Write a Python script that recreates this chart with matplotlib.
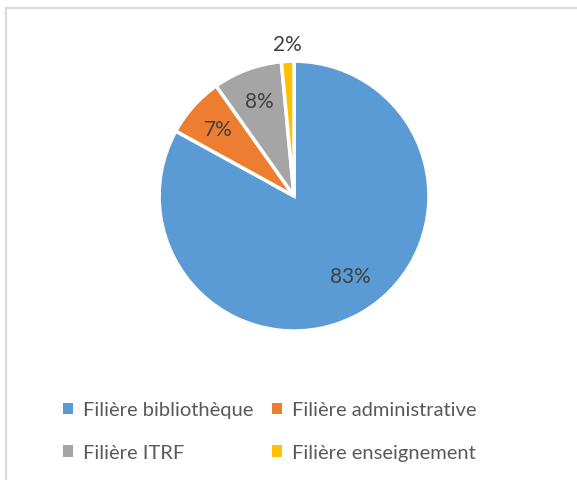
import matplotlib
matplotlib.use('Agg')
import matplotlib.pyplot as plt
from matplotlib.patches import Rectangle

labels = ['Filière bibliothèque', 'Filière administrative', 'Filière ITRF', 'Filière enseignement']
values = [83.0, 7.2, 8.3, 1.5]
colors = ['#5B9BD5', '#ED7D31', '#A5A5A5', '#FFC000']

plt.rcParams['font.family'] = ['Lato', 'DejaVu Sans']

fig = plt.figure(figsize=(5.77, 4.81), dpi=100)
fig.patch.set_facecolor('white')

# chart frame (cropped at right/bottom)
fig.add_artist(Rectangle((6/577, -0.05), 1.2, 1 - 9/481 + 0.05, transform=fig.transFigure,
                         fill=False, edgecolor='#d9d9d9', linewidth=1.5))

ax = fig.add_axes([0.2756, 0.3098, 0.468, 0.561])
wedges, texts, autotexts = ax.pie(values, colors=colors, startangle=90, counterclock=False,
                                  autopct='%.0f%%', pctdistance=0.75,
                                  wedgeprops=dict(edgecolor='white', linewidth=2.5),
                                  textprops=dict(fontsize=15, color='#404040'))
ax.set_xlim(-1, 1)
ax.set_ylim(-1, 1)
ax.set_aspect('equal')
# label placement like the original
autotexts[0].set_position((0.42, -0.59))
autotexts[3].set_position((-0.05, 1.13))

# legend fills by column, so reorder to get rows like the original
order = [0, 2, 1, 3]
leg = fig.legend([wedges[i] for i in order], [labels[i] for i in order],
                 loc='upper left', bbox_to_anchor=(0.078, 0.201), ncol=2,
                 frameon=False, fontsize=14.5, handlelength=0.5, handleheight=0.5, handletextpad=0.5,
                 columnspacing=0.9, labelspacing=1.28, labelcolor='#595959')
for h in leg.legend_handles:
    h.set_linewidth(0)

fig.savefig('out.png', dpi=100)
